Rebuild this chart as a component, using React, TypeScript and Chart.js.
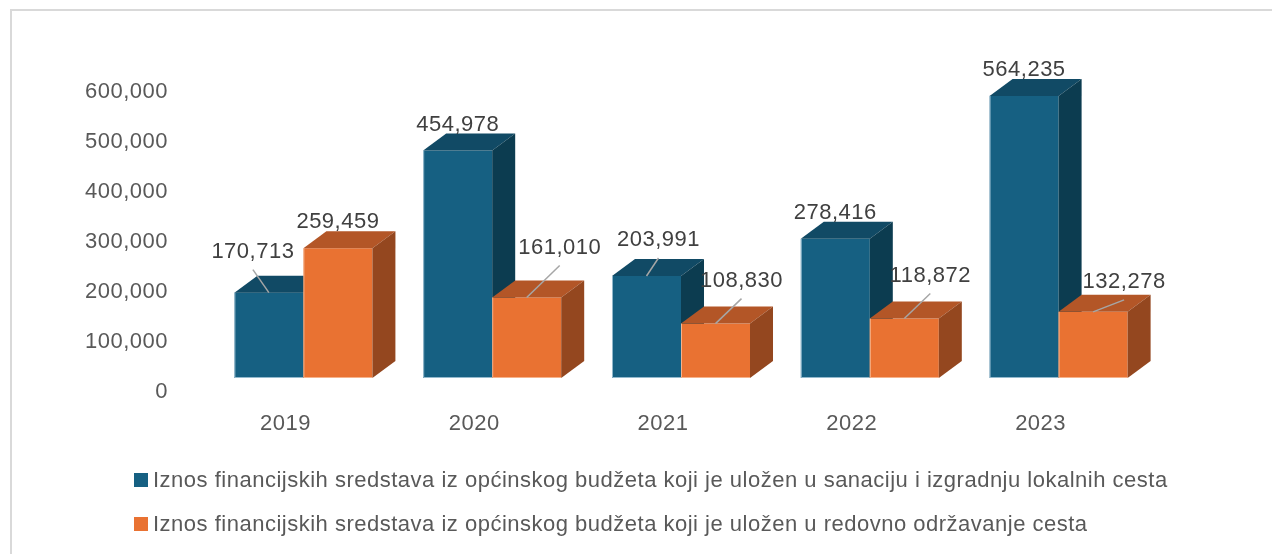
import React, { useEffect, useRef } from "react";
import { Chart, registerables } from "chart.js";

Chart.register(...registerables);

// ---------- data ----------
const categories = ["2019", "2020", "2021", "2022", "2023"];
const seriesNames = [
  "Iznos financijskih sredstava iz općinskog budžeta koji je uložen u sanaciju i izgradnju lokalnih cesta",
  "Iznos financijskih sredstava iz općinskog budžeta koji je uložen u redovno održavanje cesta",
];
const sanacijaValues = [170713, 454978, 203991, 278416, 564235];
const odrzavanjeValues = [259459, 161010, 108830, 118872, 132278];
const yAxisMax = 600000;
const yAxisStep = 100000;

// ---------- style ----------
const FONT = '"Liberation Sans", Arial, sans-serif';
const LETTER_SPACING = "0.5px";
const FACES = [
  { front: "#166082", top: "#114a65", side: "#0c3c50", edge: "rgba(190,215,230,0.75)" },
  { front: "#e97232", top: "#b35627", side: "#94471f", edge: "rgba(250,200,170,0.75)" },
];
const DEPTH_X = 23;
const DEPTH_Y = 17;
const LABEL_RISE = 26;
// manual shifts of moved data labels (px), per series and category
const LABEL_SHIFT = [
  [[-16, -15], [0, 0], [12, -10], [0, 0], [0, 0]],
  [[0, 0], [33, -24], [26, -17], [26, -17], [31, -4]],
];

const spacing = {
  id: "spacing",
  beforeDraw(chart: any) {
    (chart.ctx as any).letterSpacing = LETTER_SPACING;
  },
};

const bars3d = {
  id: "bars3d",
  afterDatasetsDraw(chart: any) {
    const ctx = chart.ctx as CanvasRenderingContext2D;
    const metas = [chart.getDatasetMeta(0), chart.getDatasetMeta(1)];
    ctx.save();
    for (let i = 0; i < categories.length; i++) {
      for (let d = 0; d < metas.length; d++) {
        const el = metas[d].data[i];
        const { x, y, base, width } = el.getProps(["x", "y", "base", "width"], true);
        const x0 = x - width / 2;
        const x1 = x + width / 2;
        const f = FACES[d];
        // front
        ctx.fillStyle = f.front;
        ctx.fillRect(x0, y, width, base - y);
        // top
        ctx.fillStyle = f.top;
        ctx.beginPath();
        ctx.moveTo(x0, y);
        ctx.lineTo(x1, y);
        ctx.lineTo(x1 + DEPTH_X, y - DEPTH_Y);
        ctx.lineTo(x0 + DEPTH_X, y - DEPTH_Y);
        ctx.closePath();
        ctx.fill();
        // side
        ctx.fillStyle = f.side;
        ctx.beginPath();
        ctx.moveTo(x1, y);
        ctx.lineTo(x1 + DEPTH_X, y - DEPTH_Y);
        ctx.lineTo(x1 + DEPTH_X, base - DEPTH_Y);
        ctx.lineTo(x1, base);
        ctx.closePath();
        ctx.fill();
        // subtle light edges
        ctx.strokeStyle = f.edge;
        ctx.lineWidth = 1;
        ctx.beginPath();
        ctx.moveTo(x0 + 0.5, y);
        ctx.lineTo(x0 + 0.5, base - 0.5);
        ctx.lineTo(x1, base - 0.5);
        ctx.stroke();
      }
    }
    // data labels
    (ctx as any).letterSpacing = LETTER_SPACING;
    ctx.font = `22px ${FONT}`;
    ctx.textAlign = "center";
    ctx.textBaseline = "middle";
    for (let d = 0; d < metas.length; d++) {
      const values = chart.data.datasets[d].data as number[];
      for (let i = 0; i < values.length; i++) {
        const el = metas[d].data[i];
        const { x, y } = el.getProps(["x", "y"], true);
        const [sx, sy] = LABEL_SHIFT[d][i];
        const lx = x + sx;
        const ly = y - LABEL_RISE + sy;
        if (sx !== 0 || sy !== 0) {
          ctx.strokeStyle = "#a6a6a6";
          ctx.lineWidth = 1.5;
          ctx.beginPath();
          ctx.moveTo(lx, ly + 18);
          ctx.lineTo(x, y);
          ctx.stroke();
        }
        ctx.fillStyle = "#404040";
        ctx.fillText(values[i].toLocaleString("en-US"), lx, ly);
      }
    }
    ctx.restore();
  },
};

export default function App() {
  const canvasRef = useRef<HTMLCanvasElement | null>(null);

  useEffect(() => {
    if (!canvasRef.current) return;
    const chart = new Chart(canvasRef.current, {
      type: "bar",
      data: {
        labels: categories,
        datasets: [
          {
            label: seriesNames[0],
            data: sanacijaValues,
            backgroundColor: "rgba(0,0,0,0)",
            borderWidth: 0,
            categoryPercentage: 0.731,
            barPercentage: 1,
          },
          {
            label: seriesNames[1],
            data: odrzavanjeValues,
            backgroundColor: "rgba(0,0,0,0)",
            borderWidth: 0,
            categoryPercentage: 0.731,
            barPercentage: 1,
          },
        ],
      },
      options: {
        responsive: false,
        animation: false,
        events: [],
        layout: { padding: { left: 0, right: 119, top: 78, bottom: 0 } },
        plugins: {
          legend: { display: false },
          tooltip: { enabled: false },
        },
        scales: {
          x: {
            grid: { display: false, drawTicks: false },
            border: { display: false },
            ticks: {
              color: "#595959",
              font: { family: FONT, size: 22 },
              padding: 33,
              labelOffset: -18,
            },
            afterFit: (s: any) => {
              s.height = 176;
            },
          },
          y: {
            min: 0,
            max: yAxisMax,
            grid: { display: false, drawTicks: false },
            border: { display: false },
            ticks: {
              stepSize: yAxisStep,
              color: "#595959",
              font: { family: FONT, size: 22 },
              padding: 41,
              labelOffset: 14,
            },
            afterFit: (s: any) => {
              s.width = 209;
            },
          },
        },
      },
      plugins: [spacing, bars3d],
    });
    return () => chart.destroy();
  }, []);

  const colors = [FACES[0].front, FACES[1].front];

  return (
    <div>
      <canvas
        ref={canvasRef}
        width={1272}
        height={554}
        style={{ position: "fixed", left: 0, top: 0, width: 1272, height: 554, display: "block" }}
      />
      <div
        style={{
          position: "fixed",
          left: 10,
          top: 9,
          width: 1300,
          height: 600,
          border: "2px solid #d9d9d9",
          boxSizing: "border-box",
          pointerEvents: "none",
        }}
      />
      {seriesNames.map((name, k) => (
        <div
          key={k}
          style={{
            position: "fixed",
            left: 134,
            top: 466 + k * 44,
            height: 28,
            display: "flex",
            alignItems: "center",
            fontFamily: FONT,
            fontSize: 22,
            letterSpacing: LETTER_SPACING,
            color: "#595959",
            whiteSpace: "nowrap",
          }}
        >
          <span style={{ display: "inline-block", width: 14, height: 14, background: colors[k], marginRight: 5 }} />
          <span>{name}</span>
        </div>
      ))}
    </div>
  );
}
